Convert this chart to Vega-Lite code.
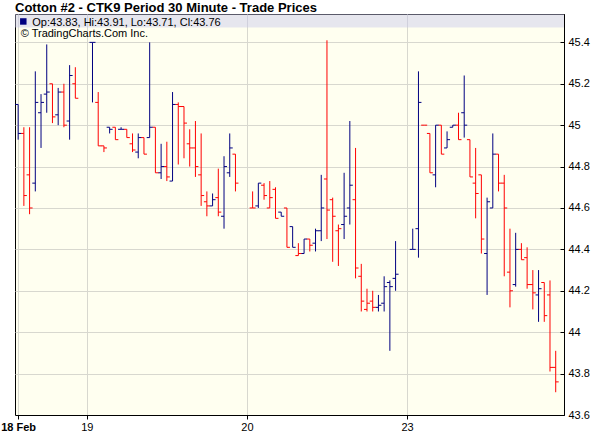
{
  "$schema": "https://vega.github.io/schema/vega-lite/v6.json",
  "width": 549,
  "height": 401,
  "autosize": "none",
  "padding": {"left": 15, "top": 14, "right": 50, "bottom": 31},
  "background": "white",
  "title": {"text": "Cotton #2 - CTK9 Period 30 Minute - Trade Prices", "anchor": "start", "frame": "group", "font": "Liberation Sans", "fontSize": 13, "fontWeight": "bold", "color": "#000000", "baseline": "alphabetic", "offset": 4, "dy": 15},
  "config": {"view": {"fill": "#FFFFF0", "stroke": "#000000", "strokeWidth": 1}, "font": "Liberation Sans"},
  "datasets": {
    "bars": [
      {"s":0,"o":45.10,"h":45.10,"l":44.93,"c":44.96},
      {"s":1,"o":44.96,"h":44.99,"l":44.61,"c":44.66},
      {"s":2,"o":44.76,"h":44.99,"l":44.57,"c":44.60},
      {"s":3,"o":44.72,"h":45.26,"l":44.68,"c":45.11},
      {"s":4,"o":45.06,"h":45.15,"l":44.89,"c":45.11},
      {"s":5,"o":45.15,"h":45.39,"l":45.06,"c":45.16},
      {"s":6,"o":45.20,"h":45.20,"l":45.01,"c":45.04},
      {"s":7,"o":45.05,"h":45.18,"l":45.00,"c":45.16},
      {"s":8,"o":45.16,"h":45.20,"l":44.99,"c":45.00},
      {"s":9,"o":45.02,"h":45.29,"l":44.93,"c":45.24},
      {"s":10,"o":45.20,"h":45.28,"l":45.13,"c":45.13},
      {"s":13,"o":45.40,"h":45.40,"l":45.11,"c":45.40},
      {"s":14,"o":45.11,"h":45.16,"l":44.90,"c":44.90},
      {"s":15,"o":44.90,"h":44.90,"l":44.87,"c":44.89},
      {"s":16,"o":44.99,"h":44.99,"l":44.96,"c":44.98},
      {"s":17,"o":44.99,"h":44.99,"l":44.93,"c":44.93},
      {"s":18,"o":44.98,"h":44.99,"l":44.98,"c":44.98},
      {"s":19,"o":44.98,"h":44.98,"l":44.94,"c":44.94},
      {"s":20,"o":44.91,"h":44.96,"l":44.87,"c":44.88},
      {"s":21,"o":44.87,"h":44.96,"l":44.84,"c":44.94},
      {"s":22,"o":44.94,"h":44.94,"l":44.86,"c":44.86},
      {"s":23,"o":44.94,"h":45.40,"l":44.94,"c":44.99},
      {"s":24,"o":44.99,"h":44.99,"l":44.77,"c":44.77},
      {"s":25,"o":44.77,"h":44.91,"l":44.74,"c":44.80},
      {"s":26,"o":44.80,"h":44.92,"l":44.73,"c":44.75},
      {"s":27,"o":44.73,"h":45.16,"l":44.73,"c":45.10},
      {"s":28,"o":45.10,"h":45.11,"l":44.81,"c":45.09},
      {"s":29,"o":45.09,"h":45.09,"l":44.84,"c":45.01},
      {"s":30,"o":44.91,"h":44.98,"l":44.80,"c":44.89},
      {"s":31,"o":44.89,"h":45.02,"l":44.75,"c":44.80},
      {"s":32,"o":44.76,"h":44.96,"l":44.61,"c":44.66},
      {"s":33,"o":44.63,"h":44.68,"l":44.56,"c":44.61},
      {"s":34,"o":44.61,"h":44.67,"l":44.61,"c":44.64},
      {"s":35,"o":44.65,"h":44.79,"l":44.56,"c":44.58},
      {"s":36,"o":44.56,"h":44.85,"l":44.50,"c":44.80},
      {"s":37,"o":44.77,"h":44.96,"l":44.75,"c":44.89},
      {"s":38,"o":44.86,"h":44.86,"l":44.68,"c":44.72},
      {"s":41,"o":44.60,"h":44.68,"l":44.60,"c":44.60},
      {"s":42,"o":44.61,"h":44.72,"l":44.60,"c":44.72},
      {"s":43,"o":44.71,"h":44.72,"l":44.64,"c":44.66},
      {"s":44,"o":44.60,"h":44.73,"l":44.60,"c":44.65},
      {"s":45,"o":44.69,"h":44.70,"l":44.55,"c":44.55},
      {"s":46,"o":44.58,"h":44.58,"l":44.56,"c":44.56},
      {"s":47,"o":44.60,"h":44.60,"l":44.41,"c":44.41},
      {"s":48,"o":44.51,"h":44.51,"l":44.41,"c":44.41},
      {"s":49,"o":44.37,"h":44.43,"l":44.37,"c":44.38},
      {"s":50,"o":44.38,"h":44.45,"l":44.38,"c":44.45},
      {"s":51,"o":44.45,"h":44.45,"l":44.39,"c":44.42},
      {"s":52,"o":44.43,"h":44.50,"l":44.39,"c":44.49},
      {"s":53,"o":44.49,"h":44.76,"l":44.44,"c":44.60},
      {"s":54,"o":44.74,"h":45.41,"l":44.45,"c":44.59},
      {"s":55,"o":44.64,"h":44.65,"l":44.34,"c":44.56},
      {"s":56,"o":44.49,"h":44.52,"l":44.32,"c":44.50},
      {"s":57,"o":44.52,"h":44.77,"l":44.45,"c":44.56},
      {"s":58,"o":44.60,"h":45.02,"l":44.52,"c":44.71},
      {"s":59,"o":44.64,"h":44.89,"l":44.26,"c":44.31},
      {"s":60,"o":44.27,"h":44.33,"l":44.10,"c":44.15},
      {"s":61,"o":44.11,"h":44.21,"l":44.10,"c":44.14},
      {"s":62,"o":44.15,"h":44.20,"l":44.10,"c":44.12},
      {"s":63,"o":44.12,"h":44.18,"l":44.10,"c":44.13},
      {"s":64,"o":44.14,"h":44.27,"l":44.10,"c":44.22},
      {"s":65,"o":44.24,"h":44.25,"l":43.91,"c":44.22},
      {"s":66,"o":44.26,"h":44.44,"l":44.20,"c":44.28},
      {"s":69,"o":44.40,"h":44.50,"l":44.40,"c":44.40},
      {"s":70,"o":44.50,"h":45.26,"l":44.36,"c":45.11},
      {"s":71,"o":45.00,"h":45.00,"l":45.00,"c":45.00},
      {"s":72,"o":44.96,"h":44.96,"l":44.77,"c":44.77},
      {"s":73,"o":44.76,"h":45.00,"l":44.70,"c":45.00},
      {"s":74,"o":45.00,"h":45.00,"l":44.86,"c":44.86},
      {"s":75,"o":44.89,"h":44.97,"l":44.89,"c":44.93},
      {"s":76,"o":44.99,"h":45.00,"l":44.99,"c":45.00},
      {"s":77,"o":45.00,"h":45.06,"l":44.93,"c":44.93},
      {"s":78,"o":45.06,"h":45.24,"l":44.94,"c":45.00},
      {"s":79,"o":44.93,"h":44.93,"l":44.75,"c":44.75},
      {"s":80,"o":44.72,"h":44.89,"l":44.55,"c":44.67},
      {"s":81,"o":44.76,"h":44.76,"l":44.38,"c":44.45},
      {"s":82,"o":44.38,"h":44.65,"l":44.18,"c":44.63},
      {"s":83,"o":44.60,"h":44.96,"l":44.60,"c":44.86},
      {"s":84,"o":44.86,"h":44.86,"l":44.68,"c":44.72},
      {"s":85,"o":44.72,"h":44.76,"l":44.27,"c":44.60},
      {"s":86,"o":44.29,"h":44.50,"l":44.12,"c":44.20},
      {"s":87,"o":44.23,"h":44.48,"l":44.22,"c":44.40},
      {"s":88,"o":44.40,"h":44.43,"l":44.35,"c":44.35},
      {"s":89,"o":44.36,"h":44.41,"l":44.21,"c":44.23},
      {"s":90,"o":44.23,"h":44.30,"l":44.11,"c":44.19},
      {"s":91,"o":44.18,"h":44.30,"l":44.05,"c":44.21},
      {"s":92,"o":44.24,"h":44.24,"l":44.05,"c":44.08},
      {"s":93,"o":44.18,"h":44.25,"l":43.81,"c":43.83},
      {"s":94,"o":43.83,"h":43.91,"l":43.71,"c":43.76}
    ]
  },
  "layer": [
    {
      "data": {"name": "bars"},
      "transform": [{"window": [{"op": "lag", "field": "c", "as": "pc"}], "sort": [{"field": "s"}]}],
      "encoding": {
        "x": {"field": "s", "type": "quantitative", "title": null,
          "scale": {"domain": [-0.55, 95.45], "nice": false, "zero": false},
          "axis": {"values": [0, 12, 40, 68],
            "labelExpr": "datum.value == 0 ? '18 Feb' : datum.value == 12 ? '19' : datum.value == 40 ? '20' : '23'",
            "labelFontWeight": {"condition": {"test": "datum.value == 0", "value": "bold"}, "value": "normal"},
            "grid": true, "gridColor": "#D8D8CF", "gridWidth": 1, "gridOpacity": 1,
            "tickSize": 4, "tickColor": "#000000", "domainColor": "#000000",
            "labelFont": "Liberation Sans", "labelFontSize": 11, "labelColor": "#000000", "labelPadding": 2}
        },
        "color": {"condition": {"test": "datum.pc != null && datum.c < datum.pc", "value": "#FF0000"}, "value": "#000080"}
      },
      "layer": [
        {
          "mark": {"type": "rule", "strokeWidth": 1},
          "encoding": {
            "y": {"field": "l", "type": "quantitative", "title": null,
              "scale": {"domain": [43.6, 45.537], "nice": false, "zero": false},
              "axis": {"orient": "right", "values": [43.6, 43.7, 43.8, 43.9, 44.0, 44.1, 44.2, 44.3, 44.4, 44.5, 44.6, 44.7, 44.8, 44.9, 45.0, 45.1, 45.2, 45.3, 45.4],
                "format": "~g", "grid": true, "gridColor": "#D8D8CF", "gridWidth": 1, "gridOpacity": 1,
                "tickSize": -4, "tickColor": "#000000", "domainColor": "#000000", "labelPadding": 8,
                "labelFont": "Liberation Sans", "labelFontSize": 11, "labelColor": "#000000"}},
            "y2": {"field": "h"}
          }
        },
        {
          "mark": {"type": "rule", "strokeWidth": 1, "xOffset": -3, "x2Offset": 0},
          "encoding": {
            "x2": {"field": "s"},
            "y": {"field": "o", "type": "quantitative", "title": null}
          }
        },
        {
          "mark": {"type": "rule", "strokeWidth": 1, "xOffset": 0, "x2Offset": 3},
          "encoding": {
            "x2": {"field": "s"},
            "y": {"field": "c", "type": "quantitative", "title": null}
          }
        }
      ]
    },
    {
      "data": {"values": [{}]},
      "mark": {"type": "rect", "fill": "#C8C8EC", "opacity": 0.45},
      "encoding": {
        "x": {"datum": -0.55, "type": "quantitative"},
        "x2": {"datum": 95.45},
        "y": {"datum": 45.472, "type": "quantitative"},
        "y2": {"datum": 45.537}
      }
    },
    {
      "data": {"values": [{}]},
      "mark": {"type": "point", "shape": "square", "filled": true, "size": 42, "color": "#000080", "opacity": 1, "xOffset": 8.3},
      "encoding": {
        "x": {"datum": -0.55, "type": "quantitative"},
        "y": {"datum": 45.501, "type": "quantitative"}
      }
    },
    {
      "data": {"values": [{"t": "Op:43.83, Hi:43.91, Lo:43.71, Cl:43.76"}]},
      "mark": {"type": "text", "align": "left", "baseline": "alphabetic", "font": "Liberation Sans", "fontSize": 11, "color": "#000000", "dx": 17.3},
      "encoding": {
        "x": {"datum": -0.55, "type": "quantitative"},
        "y": {"datum": 45.479, "type": "quantitative"},
        "text": {"field": "t"}
      }
    },
    {
      "data": {"values": [{"t": "\u00a9 TradingCharts.Com Inc."}]},
      "mark": {"type": "text", "align": "left", "baseline": "alphabetic", "font": "Liberation Sans", "fontSize": 11, "color": "#000000", "dx": 5.7},
      "encoding": {
        "x": {"datum": -0.55, "type": "quantitative"},
        "y": {"datum": 45.426, "type": "quantitative"},
        "text": {"field": "t"}
      }
    }
  ]
}
